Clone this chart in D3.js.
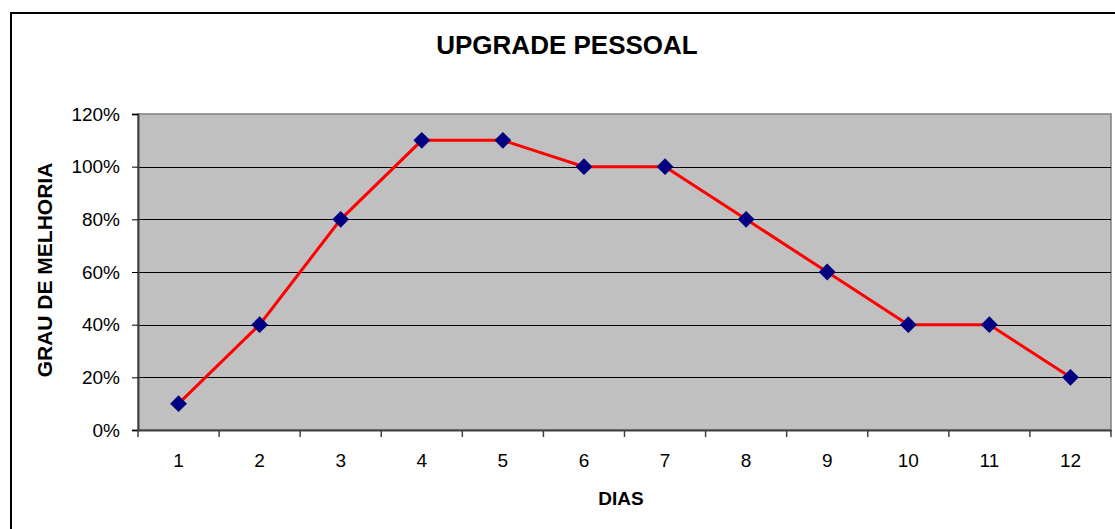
<!DOCTYPE html>
<html><head><meta charset="utf-8">
<script src="https://cdn.jsdelivr.net/npm/d3@7"></script>
<style>body{margin:0;background:#fff}svg{display:block}</style>
</head><body>
<script>
const categories = ["1","2","3","4","5","6","7","8","9","10","11","12"];
const values = [0.10,0.40,0.80,1.10,1.10,1.00,1.00,0.80,0.60,0.40,0.40,0.20];
const yTicks = [0,0.2,0.4,0.6,0.8,1.0,1.2];
const title = "UPGRADE PESSOAL";
const xTitle = "DIAS";
const yTitle = "GRAU DE MELHORIA";

const W = 1115, H = 529;
const pLeft = 138, pRight = 1111, pTop = 114, pBottom = 430;
const font = "'Liberation Sans', Arial, sans-serif";

const svg = d3.select("body").append("svg").attr("width", W).attr("height", H);

svg.append("rect").attr("x", 11).attr("y", 13).attr("width", 1200).attr("height", 600)
  .attr("fill", "#fff").attr("stroke", "#000").attr("stroke-width", 2);

const x = d3.scaleBand().domain(categories).range([pLeft, pRight]);
const y = d3.scaleLinear().domain([0, 1.2]).range([pBottom, pTop]);

svg.append("rect").attr("x", pLeft).attr("y", pTop).attr("width", pRight - pLeft).attr("height", pBottom - pTop)
  .attr("fill", "#c0c0c0").attr("stroke", "#808080").attr("stroke-width", 1.5);

// gridlines
svg.append("g").selectAll("line").data(yTicks.filter(d => d > 0 && d < 1.2)).join("line")
  .attr("x1", pLeft).attr("x2", pRight)
  .attr("y1", d => Math.round(y(d)) + 0.5).attr("y2", d => Math.round(y(d)) + 0.5)
  .attr("stroke", "#000").attr("stroke-width", 1);

// y axis
const yAxis = d3.axisLeft(y).tickValues(yTicks).tickFormat(d3.format(".0%")).tickSize(6).tickPadding(12);
const gy = svg.append("g").attr("transform", `translate(${pLeft},0)`).call(yAxis);
gy.select(".domain").attr("stroke", "#404040").attr("stroke-width", 2);
gy.selectAll(".tick line").attr("stroke", "#000");
gy.selectAll(".tick text").attr("font-family", font).attr("font-size", 19).attr("fill", "#000");

// x axis
const xAxis = d3.axisBottom(x).tickSize(0).tickPadding(24);
const gx = svg.append("g").attr("transform", `translate(0,${pBottom})`).call(xAxis);
gx.select(".domain").attr("stroke", "#404040").attr("stroke-width", 2);
gx.selectAll(".tick text").attr("font-family", font).attr("font-size", 19).attr("fill", "#000");
// tick marks at band boundaries
const bounds = categories.map(c => x(c)).concat([pRight]);
svg.append("g").selectAll("line").data(bounds).join("line")
  .attr("x1", d => d).attr("x2", d => d).attr("y1", pBottom).attr("y2", pBottom + 7)
  .attr("stroke", "#404040").attr("stroke-width", 1.5);

// line
const line = d3.line().x((d, i) => x(categories[i]) + x.bandwidth() / 2).y(d => y(d));
svg.append("path").datum(values).attr("d", line).attr("fill", "none")
  .attr("stroke", "#ff0000").attr("stroke-width", 3);

// markers
svg.append("g").selectAll("path").data(values).join("path")
  .attr("d", d3.symbol().type(d3.symbolDiamond2).size(180))
  .attr("transform", (d, i) => `translate(${x(categories[i]) + x.bandwidth() / 2},${y(d)})`)
  .attr("fill", "#000080");

// titles
svg.append("text").attr("x", 567).attr("y", 54).attr("text-anchor", "middle")
  .attr("font-family", font).attr("font-weight", "bold").attr("font-size", 26).text(title);
svg.append("text").attr("x", 621).attr("y", 505).attr("text-anchor", "middle")
  .attr("font-family", font).attr("font-weight", "bold").attr("font-size", 19).text(xTitle);
svg.append("text").attr("transform", "translate(52,270) rotate(-90)").attr("text-anchor", "middle")
  .attr("font-family", font).attr("font-weight", "bold").attr("font-size", 21).text(yTitle);
</script>
</body></html>
